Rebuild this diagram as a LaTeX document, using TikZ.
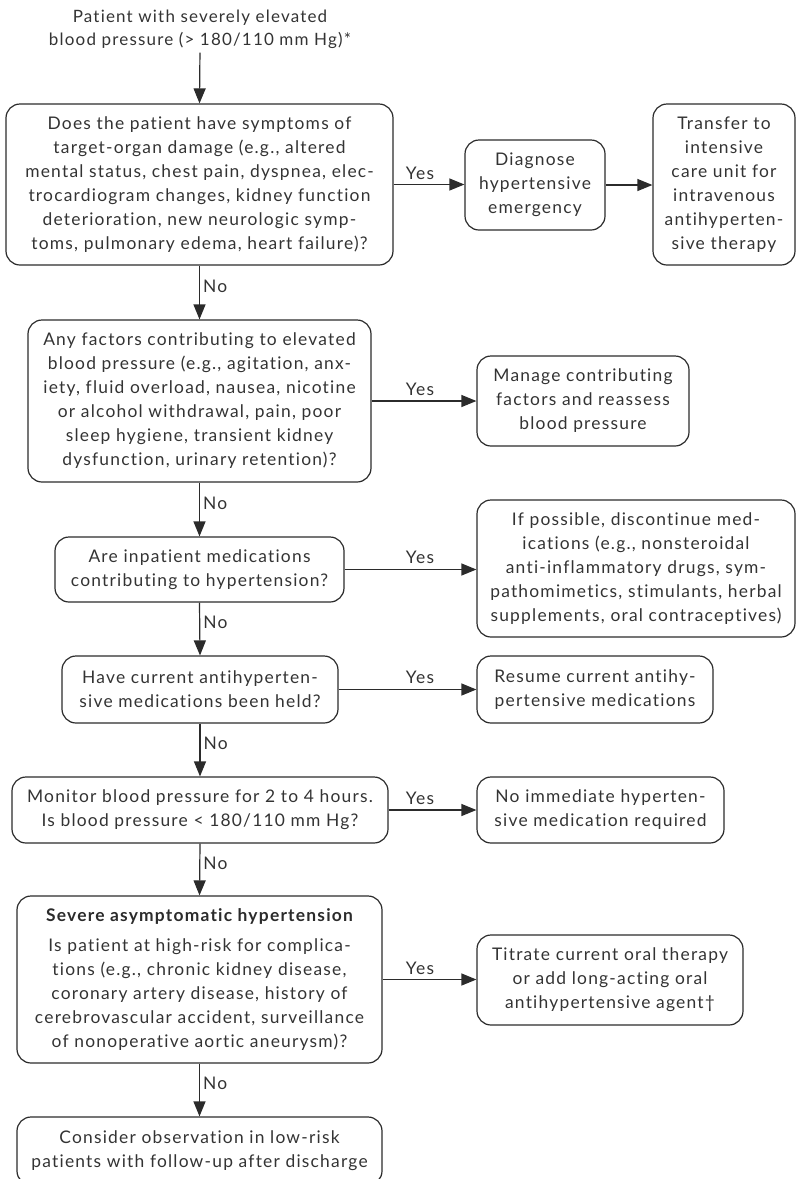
\documentclass[tikz,border=0pt]{standalone}
\usepackage{fontspec}
\setmainfont{Lato}[LetterSpace=7, Ligatures=NoCommon]
\usepackage{xcolor}
\usetikzlibrary{positioning,arrows.meta,calc}
\definecolor{ink}{HTML}{333333}
\definecolor{rule}{HTML}{2B2B2B}
\newcommand{\txt}{\fontsize{17.4}{24}\selectfont}

\tikzset{
  box/.style={draw=rule, rounded corners=14pt, line width=1.2pt, align=center,
              inner sep=0pt, text=ink, font=\txt},
  flow/.style={draw=rule, line width=1.2pt, -{Triangle[length=15pt,width=12pt]}},
  no/.style={right, pos=0.38, inner sep=3pt, text=ink, font=\txt},
  yes/.style={inner sep=0pt, text=ink, font=\txt},
}

\begin{document}
\begin{tikzpicture}[x=1pt, y=-1pt]
  \useasboundingbox (0,0) rectangle (796,1179);

  % main column
  \node[align=center, text=ink, font=\fontsize{17}{23}\selectfont, inner sep=0pt] (start) at (200,29)
    {Patient with severely elevated\\blood pressure (> 180/110 mm Hg)*};
  \node[box, minimum width=387pt, minimum height=161pt] (damage) at (199.5,184.5)
    {Does the patient have symptoms of\\target-organ damage (e.g., altered\\mental status, chest pain, dyspnea, elec-\\trocardiogram changes, kidney function\\deterioration, new neurologic symp-\\toms, pulmonary edema, heart failure)?};
  \node[box, minimum width=343pt, minimum height=162pt] (factors) at (199.5,401)
    {Any factors contributing to elevated\\blood pressure (e.g., agitation, anx-\\iety, fluid overload, nausea, nicotine\\or alcohol withdrawal, pain, poor\\sleep hygiene, transient kidney\\dysfunction, urinary retention)?};
  \node[box, minimum width=289pt, minimum height=65pt] (inpat) at (199.5,569.5)
    {Are inpatient medications\\contributing to hypertension?};
  \node[box, minimum width=276pt, minimum height=67pt] (held) at (200,689.5)
    {Have current antihyperten-\\sive medications been held?};
  \node[box, minimum width=376pt, minimum height=66pt] (monitor) at (200,810)
    {Monitor blood pressure for 2 to 4 hours.\\Is blood pressure < 180/110 mm Hg?};
  \node[box, minimum width=365pt, minimum height=167pt] (severe) at (199.5,979.5)
    {{\bfseries\color{rule}Severe asymptomatic hypertension}\\[6pt]Is patient at high-risk for complica-\\tions (e.g., chronic kidney disease,\\coronary artery disease, history of\\cerebrovascular accident, surveillance\\of nonoperative aortic aneurysm)?};
  \node[box, minimum width=365pt, minimum height=68pt] (observe) at (199.5,1151)
    {Consider observation in low-risk\\patients with follow-up after discharge};

  % right column
  \node[box, minimum width=140pt, minimum height=90pt] (diagnose) at (535,185)
    {Diagnose\\hypertensive\\emergency};
  \node[box, minimum width=142pt, minimum height=161pt] (icu) at (724,184.5)
    {Transfer to\\intensive\\care unit for\\intravenous\\antihyperten-\\sive therapy};
  \node[box, minimum width=212pt, minimum height=90pt] (manage) at (583,401)
    {Manage contributing\\factors and reassess\\blood pressure};
  \node[box, minimum width=318pt, minimum height=137pt] (stopmed) at (636,568.5)
    {If possible, discontinue med-\\ications (e.g., nonsteroidal\\anti-inflammatory drugs, sym-\\pathomimetics, stimulants, herbal\\supplements, oral contraceptives)};
  \node[box, minimum width=236pt, minimum height=67pt] (resume) at (595,689.5)
    {Resume current antihy-\\pertensive medications};
  \node[box, minimum width=247pt, minimum height=66pt] (noimm) at (600.5,810)
    {No immediate hyperten-\\sive medication required};
  \node[box, minimum width=266pt, minimum height=90pt] (titrate) at (610,980)
    {Titrate current oral therapy\\or add long-acting oral\\antihypertensive agent\textdagger};

  % no branches
  \draw[flow, shorten <=4pt] (start.south) -- (damage.north);
  \draw[flow] (damage.south) -- node[no]{No} (factors.north);
  \draw[flow] (factors.south) -- node[no]{No} (inpat.north);
  \draw[flow] (inpat.south) -- node[no]{No} (held.north);
  \draw[flow] (held.south) -- node[no]{No} (monitor.north);
  \draw[flow] (monitor.south) -- node[no]{No} (severe.north);
  \draw[flow] (severe.south) -- node[no]{No} (observe.north);

  % yes branches
  \draw[flow] (damage.east) -- (damage.east -| diagnose.west);
  \draw[flow] (diagnose.east) -- (diagnose.east -| icu.west);
  \draw[flow] (factors.east) -- (factors.east -| manage.west);
  \draw[flow] (inpat.east) -- (inpat.east -| stopmed.west);
  \draw[flow] (held.east) -- (held.east -| resume.west);
  \draw[flow] (monitor.east) -- (monitor.east -| noimm.west);
  \draw[flow] (severe.east) -- (severe.east -| titrate.west);
  \node[yes] (yes1) at (420,173) {Yes};
  \node[yes] (yes2) at (420,389) {Yes};
  \node[yes] (yes3) at (420,557) {Yes};
  \node[yes] (yes4) at (420,677) {Yes};
  \node[yes] (yes5) at (420,798) {Yes};
  \node[yes] (yes6) at (420,968) {Yes};
\end{tikzpicture}
\end{document}
